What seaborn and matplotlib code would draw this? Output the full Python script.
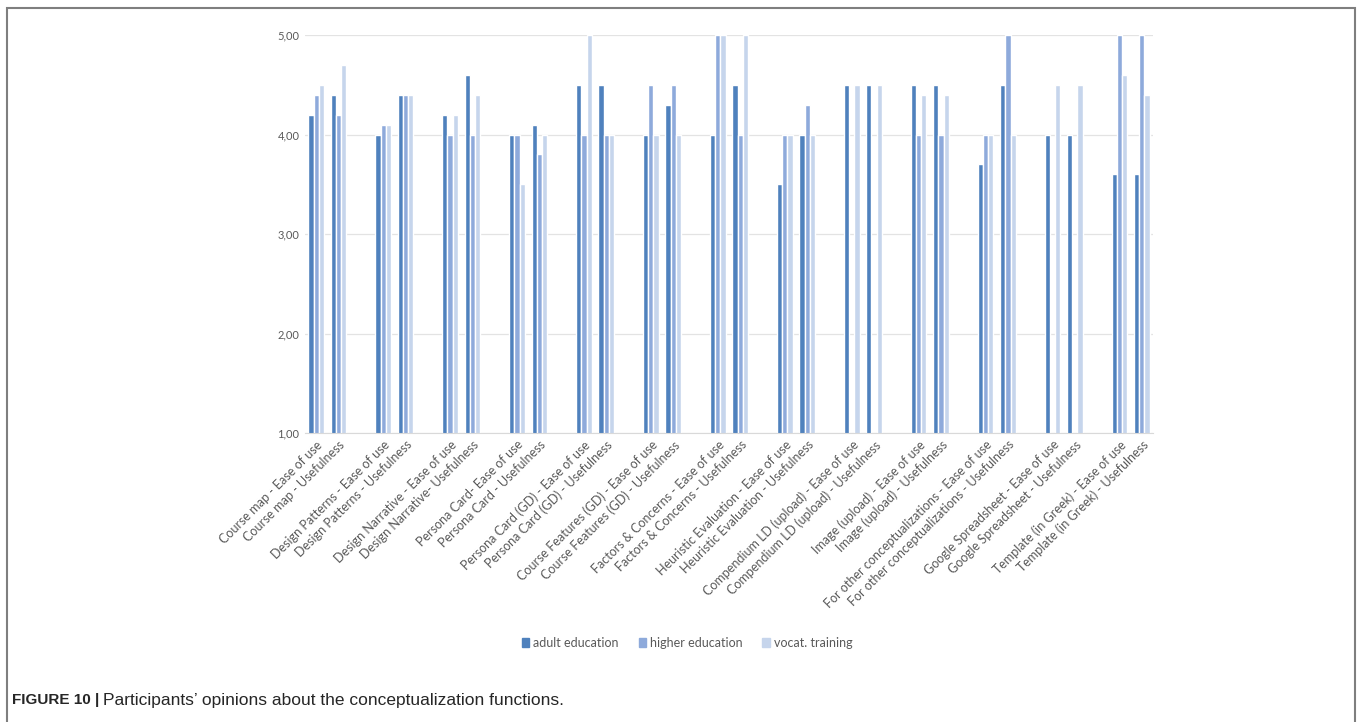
import numpy as np
import pandas as pd
import matplotlib
matplotlib.use("Agg")
import matplotlib.pyplot as plt
import seaborn as sns
from matplotlib.patches import Rectangle

categories = [
    "Course map - Ease of use", "Course map - Usefulness",
    "Design Patterns - Ease of use", "Design Patterns - Usefulness",
    "Design Narrative - Ease of use", "Design Narrative- Usefulness",
    "Persona Card- Ease of use", "Persona Card - Usefulness",
    "Persona Card (GD) - Ease of use", "Persona Card (GD) - Usefulness",
    "Course Features (GD) - Ease of use", "Course Features (GD) - Usefulness",
    "Factors & Concerns - Ease of use", "Factors & Concerns - Usefulness",
    "Heuristic Evaluation - Ease of use", "Heuristic Evaluation - Usefulness",
    "Compendium LD (upload) - Ease of use", "Compendium LD (upload) - Usefulness",
    "Image (upload) - Ease of use", "Image (upload) - Usefulness",
    "For other conceptualizations - Ease of use", "For other conceptualizations - Usefulness",
    "Google Spreadsheet - Ease of use", "Google Spreadsheet - Usefulness",
    "Template (in Greek) - Ease of use", "Template (in Greek) - Usefulness",
]
adult = [4.2, 4.4, 4.0, 4.4, 4.2, 4.6, 4.0, 4.1, 4.5, 4.5, 4.0, 4.3, 4.0,
         4.5, 3.5, 4.0, 4.5, 4.5, 4.5, 4.5, 3.7, 4.5, 4.0, 4.0, 3.6, 3.6]
higher = [4.4, 4.2, 4.1, 4.4, 4.0, 4.0, 4.0, 3.8, 4.0, 4.0, 4.5, 4.5, 5.0,
          4.0, 4.0, 4.3, np.nan, np.nan, 4.0, 4.0, 4.0, 5.0, np.nan, np.nan, 5.0, 5.0]
vocat = [4.5, 4.7, 4.1, 4.4, 4.2, 4.4, 3.5, 4.0, 5.0, 4.0, 4.0, 4.0, 5.0,
         5.0, 4.0, 4.0, 4.5, 4.5, 4.4, 4.4, 4.0, 4.0, 4.5, 4.5, 4.6, 4.4]
groups = ["adult education", "higher education", "vocat. training"]
colors = ["#4f81bd", "#8eaadb", "#c6d5ec"]

df = pd.DataFrame({"category": categories, groups[0]: adult,
                   groups[1]: higher, groups[2]: vocat})
long = df.melt(id_vars="category", var_name="group", value_name="score")

# blank slots between each pair, as in the original spreadsheet chart
order = []
for i in range(0, len(categories), 2):
    order += [categories[i], categories[i + 1]]
    if i + 2 < len(categories):
        order.append(" " * (i // 2 + 1))

sns.set_style("white")
plt.rcParams["font.family"] = ["Lato", "DejaVu Sans"]

fig = plt.figure(figsize=(13.6, 7.22), dpi=100)
ax = fig.add_axes([305 / 1360, (722 - 433) / 722, 848 / 1360, 398 / 722])

sns.barplot(data=long, x="category", y="score", hue="group", order=order,
            hue_order=groups, palette=colors, width=0.7, gap=0,
            saturation=1, ax=ax, legend=False)

ax.set_ylim(1, 5)
ax.set_xlim(-0.5, len(order) - 0.5)
ax.set_yticks([1, 2, 3, 4, 5])
ax.set_yticklabels([f"{v:.2f}".replace(".", ",") for v in [1, 2, 3, 4, 5]],
                   fontsize=8, color="#595959")
ax.yaxis.grid(True, color="#e3e3e3", linewidth=0.9)
ax.set_axisbelow(True)
ax.set_xticks(range(len(order)))
ax.set_xticklabels([c.strip() for c in order], rotation=45, ha="right",
                   rotation_mode="anchor", fontsize=9, color="#595959")
ax.tick_params(axis="both", length=0, pad=4)
ax.set_xlabel("")
ax.set_ylabel("")
for s in ["top", "right", "left"]:
    ax.spines[s].set_visible(False)
ax.spines["bottom"].set_color("#d9d9d9")

handles = [Rectangle((0, 0), 1, 1, color=c) for c in colors]
fig.legend(handles, groups, loc="center", bbox_to_anchor=(687 / 1360, 1 - 643 / 722),
           ncol=3, frameon=False, fontsize=9, handlelength=0.6, handleheight=0.8,
           handletextpad=0.3, columnspacing=1.6, labelcolor="#595959")

# outer figure frame
fig.patches.append(Rectangle((7 / 1360, -0.05), 1348 / 1360, 1 - 8 / 722 + 0.05,
                             transform=fig.transFigure, fill=False,
                             edgecolor="#7f7f7f", linewidth=1.5))

cap_font = ["Liberation Sans", "DejaVu Sans"]
t = fig.text(12 / 1360, 1 - 700 / 722, "FIGURE 10 |", fontsize=11,
             fontweight="bold", va="center", family=cap_font)
fig.canvas.draw()
bb = t.get_window_extent()
fig.text((bb.x1 + 4) / 1360, 1 - 700 / 722,
         "Participants\u2019 opinions about the conceptualization functions.",
         fontsize=12.5, va="center", family=cap_font)

fig.savefig("out.png", dpi=100)
